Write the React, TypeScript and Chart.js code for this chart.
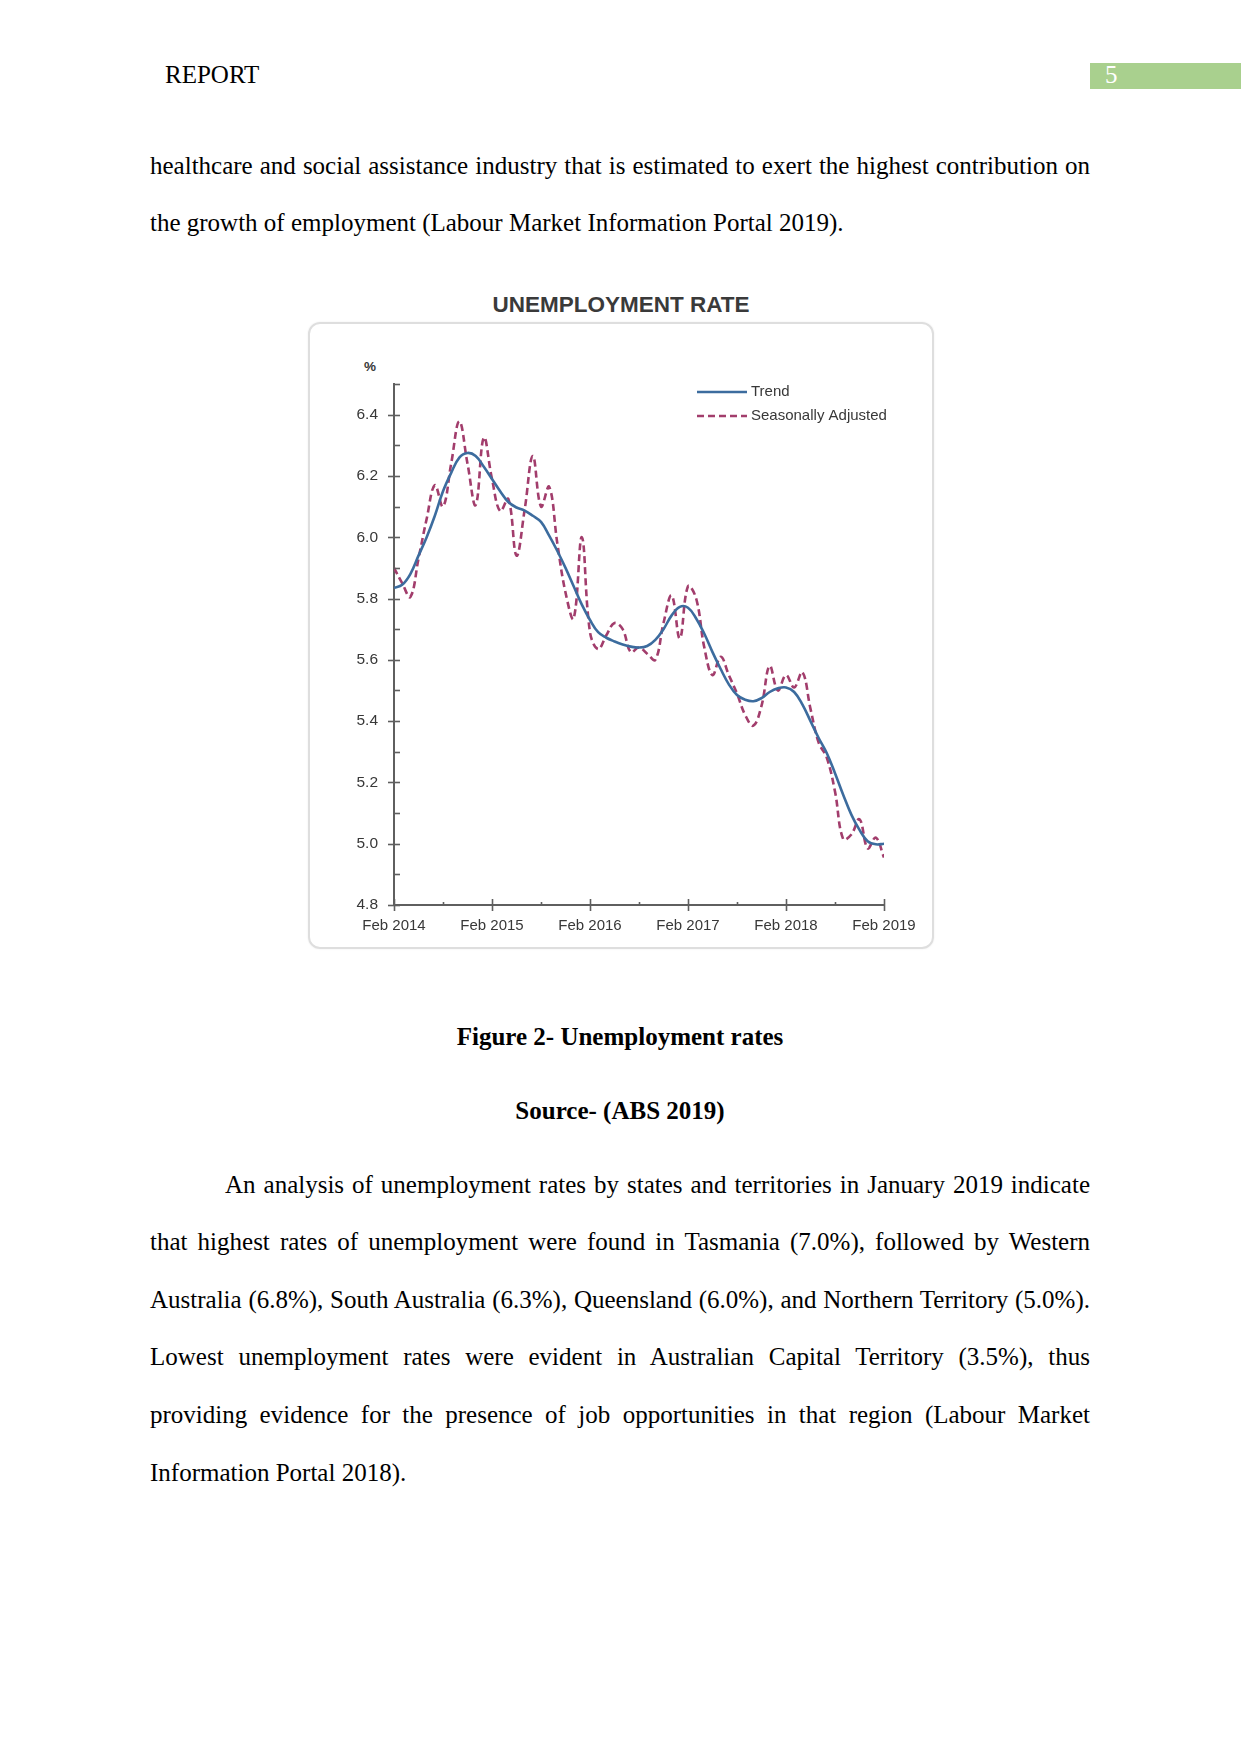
import React, { useEffect, useRef } from 'react';
import { Chart, registerables } from 'chart.js';

Chart.register(...registerables);

// ---------- data ----------
const xTickLabels = ['Feb 2014', 'Feb 2015', 'Feb 2016', 'Feb 2017', 'Feb 2018', 'Feb 2019'];
const seriesLabels = ['Trend', 'Seasonally Adjusted'];

// monthly values, Feb 2014 .. Feb 2019 (61 months)
const trendValues = [
  5.835, 5.845, 5.88, 5.94, 6.0, 6.07, 6.15, 6.21, 6.26, 6.275,
  6.265, 6.23, 6.19, 6.15, 6.115, 6.097, 6.087, 6.07, 6.05, 6.005,
  5.955, 5.9, 5.84, 5.78, 5.73, 5.69, 5.672, 5.66, 5.65, 5.643,
  5.64, 5.645, 5.665, 5.7, 5.745, 5.773, 5.77, 5.735, 5.685, 5.625,
  5.57, 5.52, 5.485, 5.47, 5.465, 5.475, 5.495, 5.507, 5.51, 5.495,
  5.455, 5.4, 5.345, 5.295, 5.23, 5.16, 5.095, 5.045, 5.008, 4.998,
  5.0,
];

const seasonallyAdjustedValues = [
  5.9, 5.85, 5.805, 5.93, 6.06, 6.17, 6.1, 6.24, 6.378, 6.24,
  6.105, 6.325, 6.19, 6.085, 6.125, 5.94, 6.09, 6.265, 6.1, 6.165,
  5.98, 5.82, 5.735, 6.0, 5.69, 5.635, 5.68, 5.72, 5.7, 5.625,
  5.64, 5.62, 5.6, 5.72, 5.81, 5.67, 5.84, 5.8, 5.64, 5.55,
  5.61, 5.55, 5.49, 5.42, 5.385, 5.45, 5.58, 5.5, 5.55, 5.51,
  5.56, 5.44, 5.33, 5.28, 5.17, 5.015, 5.03, 5.08, 4.985, 5.02,
  4.955,
];

// ---------- styles ----------
const TREND_COLOR = '#3c6c9e';
const SA_COLOR = '#a23d6c';
const AXIS_COLOR = '#5f5f5f';
const TEXT_COLOR = '#383838';
const CHART_FONT = '"Liberation Sans", Arial, sans-serif';
const SERIF = '"Liberation Serif", "Times New Roman", serif';

const axisMarksPlugin = {
  id: 'axisMarks',
  afterDraw(chart: any) {
    const { ctx, chartArea, scales } = chart;
    const xs = scales.x;
    const ys = scales.y;
    ctx.save();
    ctx.strokeStyle = AXIS_COLOR;
    ctx.lineWidth = 1.6;
    ys.ticks.forEach((t: any) => {
      const y = Math.round(ys.getPixelForValue(t.value)) + 0.5;
      const major = Math.round(t.value * 10) % 2 === 0;
      ctx.beginPath();
      ctx.moveTo(major ? chartArea.left - 6 : chartArea.left, y);
      ctx.lineTo(chartArea.left + 6, y);
      ctx.stroke();
    });
    xs.ticks.forEach((t: any) => {
      const x = Math.round(xs.getPixelForValue(t.value)) + 0.5;
      const major = Math.round(t.value) % 12 === 0;
      ctx.beginPath();
      ctx.moveTo(x, major ? chartArea.bottom + 6 : chartArea.bottom);
      ctx.lineTo(x, chartArea.bottom - (major ? 6 : 3));
      ctx.stroke();
    });

    // legend (inside plot, top right)
    const lx = chartArea.left + 303;
    const ly = chartArea.top + 8;
    chart.data.datasets.forEach((ds: any, i: number) => {
      const y = ly + i * 24;
      ctx.beginPath();
      ctx.strokeStyle = ds.borderColor;
      ctx.lineWidth = ds.borderWidth;
      ctx.setLineDash(ds.borderDash || []);
      ctx.moveTo(lx, y);
      ctx.lineTo(lx + 50, y);
      ctx.stroke();
      ctx.setLineDash([]);
      ctx.fillStyle = TEXT_COLOR;
      ctx.font = '15px ' + CHART_FONT;
      ctx.textBaseline = 'middle';
      ctx.textAlign = 'left';
      ctx.fillText(ds.label, lx + 54, y);
    });
    ctx.restore();
  },
};

function UnemploymentChart() {
  const ref = useRef<HTMLCanvasElement | null>(null);
  useEffect(() => {
    if (!ref.current) return;
    const chart = new Chart(ref.current, {
      type: 'line',
      data: {
        datasets: [
          {
            label: seriesLabels[0],
            data: trendValues.map((v, i) => ({ x: i, y: v })),
            borderColor: TREND_COLOR,
            borderWidth: 2.6,
            pointRadius: 0,
            tension: 0.4,
            fill: false,
          },
          {
            label: seriesLabels[1],
            data: seasonallyAdjustedValues.map((v, i) => ({ x: i, y: v })),
            borderColor: SA_COLOR,
            borderWidth: 2.6,
            borderDash: [7, 4],
            pointRadius: 0,
            tension: 0.4,
            fill: false,
          },
        ],
      },
      options: {
        animation: false,
        responsive: false,
        devicePixelRatio: 1,
        layout: { padding: { top: 62, right: 50, left: 0, bottom: 0 } },
        plugins: { legend: { display: false }, tooltip: { enabled: false }, title: { display: false } },
        scales: {
          x: {
            type: 'linear',
            min: 0,
            max: 60,
            grid: { display: true, drawOnChartArea: false, drawTicks: false },
            border: { display: true, color: AXIS_COLOR, width: 2 },
            ticks: {
              stepSize: 6,
              autoSkip: false,
              maxRotation: 0,
              padding: 12,
              color: TEXT_COLOR,
              font: { family: CHART_FONT, size: 15 },
              callback: (v: any) => (Math.round(v) % 12 === 0 ? xTickLabels[Math.round(v) / 12] : ''),
            },
            afterFit: (s: any) => { s.height = 44; },
          },
          y: {
            type: 'linear',
            min: 4.8,
            max: 6.5,
            grid: { display: true, drawOnChartArea: false, drawTicks: false },
            border: { display: true, color: AXIS_COLOR, width: 2 },
            ticks: {
              stepSize: 0.1,
              autoSkip: false,
              padding: 16,
              color: TEXT_COLOR,
              font: { family: CHART_FONT, size: 15.5 },
              callback: (v: any) => (Math.round(v * 10) % 2 === 0 ? Number(v).toFixed(1) : ''),
            },
            afterFit: (s: any) => { s.width = 86; },
          },
        },
      },
      plugins: [axisMarksPlugin],
    } as any);
    return () => chart.destroy();
  }, []);
  return <canvas ref={ref} width={626} height={627} style={{ position: 'absolute', left: 308, top: 322, width: 626, height: 627 }} />;
}

const line = (text: string, center: number, opts: { left?: number; width?: number; justify?: boolean; align?: string; bold?: boolean } = {}) => (
  <div
    style={{
      position: 'absolute',
      left: opts.left ?? 150,
      width: opts.width ?? 940,
      top: center - 15,
      height: 30,
      lineHeight: '30px',
      fontFamily: SERIF,
      fontSize: 25,
      fontWeight: opts.bold ? 'bold' : 'normal',
      color: '#000',
      whiteSpace: 'nowrap',
      textAlign: (opts.justify ? 'justify' : opts.align || 'left') as any,
      textAlignLast: (opts.justify ? 'justify' : opts.align || 'left') as any,
    }}
  >
    {text}
  </div>
);

export default function App() {
  return (
    <div style={{ position: 'absolute', left: 0, top: 0, width: 1241, height: 1754, background: '#fff', overflow: 'hidden' }}>
      {line('REPORT', 75, { left: 165, width: 300 })}
      <div style={{ position: 'absolute', left: 1090, top: 63, width: 151, height: 26, background: '#a9d08e' }} />
      <div style={{ position: 'absolute', left: 1105, top: 60, height: 30, lineHeight: '30px', fontFamily: SERIF, fontSize: 25, color: '#fff' }}>5</div>

      {line('healthcare and social assistance industry that is estimated to exert the highest contribution on', 166, { justify: true })}
      {line('the growth of employment (Labour Market Information Portal 2019).', 223)}

      <div style={{ position: 'absolute', left: 421, width: 400, top: 291, height: 28, lineHeight: '28px', textAlign: 'center', fontFamily: CHART_FONT, fontWeight: 'bold', fontSize: 22.5, color: '#3a3a3a' }}>
        UNEMPLOYMENT RATE
      </div>
      <div style={{ position: 'absolute', left: 308, top: 322, width: 626, height: 627, boxSizing: 'border-box', border: '2px solid #dedede', borderRadius: 12, boxShadow: '0 0 2px rgba(0,0,0,0.08)' }} />
      <div style={{ position: 'absolute', left: 362, top: 358, width: 16, textAlign: 'center', lineHeight: '18px', fontFamily: CHART_FONT, fontWeight: 'bold', fontSize: 13.5, color: TEXT_COLOR }}>%</div>
      <UnemploymentChart />

      {line('Figure 2- Unemployment rates', 1037, { align: 'center', bold: true })}
      {line('Source- (ABS 2019)', 1111, { align: 'center', bold: true })}

      {line('An analysis of unemployment rates by states and territories in January 2019 indicate', 1185, { left: 225, width: 865, justify: true })}
      {line('that highest rates of unemployment were found in Tasmania (7.0%), followed by Western', 1242, { justify: true })}
      {line('Australia (6.8%), South Australia (6.3%), Queensland (6.0%), and Northern Territory (5.0%).', 1300, { justify: true })}
      {line('Lowest unemployment rates were evident in Australian Capital Territory (3.5%), thus', 1357, { justify: true })}
      {line('providing evidence for the presence of job opportunities in that region (Labour Market', 1415, { justify: true })}
      {line('Information Portal 2018).', 1473)}
    </div>
  );
}
